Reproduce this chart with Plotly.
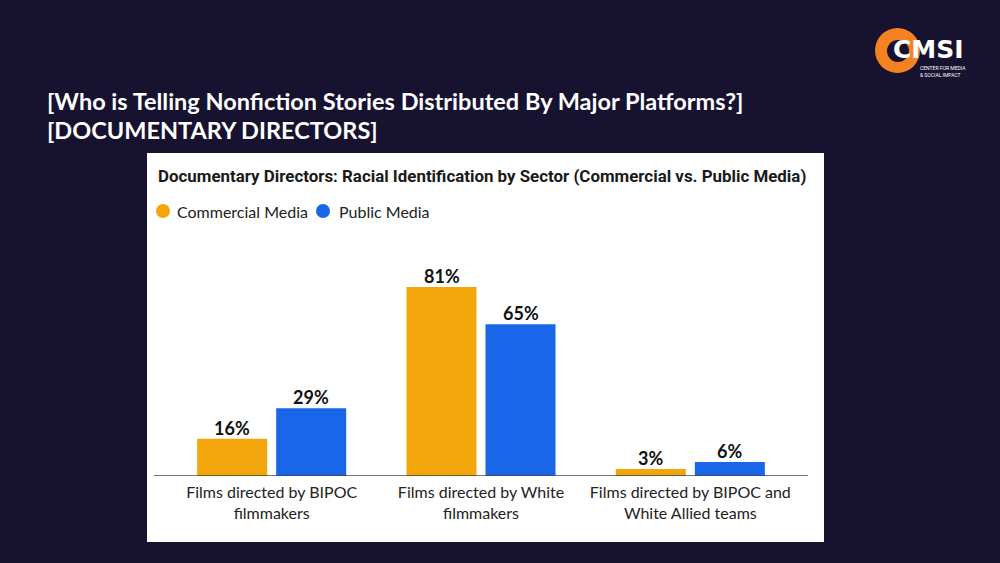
import plotly.graph_objects as go

categories = ["Films directed by BIPOC<br>filmmakers", "Films directed by White<br>filmmakers", "Films directed by BIPOC and<br>White Allied teams"]
series_names = ["Commercial Media", "Public Media"]
commercial = [16, 81, 3]
public = [29, 65, 6]
colors = ["#F2A60C", "#1966E8"]

W, H = 1000, 563
def px(x): return x / W
def py(y): return 1 - y / H

fig = go.Figure()
for name, vals, col in zip(series_names, [commercial, public], colors):
    fig.add_trace(go.Bar(
        x=categories, y=vals, name=name, marker_color=col, marker_line_width=0,
        showlegend=False, hoverinfo="skip",
    ))

shapes = [
    dict(type="rect", xref="paper", yref="paper", x0=px(147), x1=px(824), y0=py(542), y1=py(153),
         fillcolor="white", line_width=0, layer="below"),
    dict(type="line", xref="paper", yref="y", x0=px(154), x1=px(808), y0=0, y1=0,
         line=dict(color="#444444", width=1.5)),
    # logo ring
    dict(type="circle", xref="paper", yref="paper", x0=px(875), x1=px(920), y0=py(73), y1=py(28),
         fillcolor="#F58220", line_width=0),
    dict(type="circle", xref="paper", yref="paper", x0=px(887), x1=px(909), y0=py(62), y1=py(40),
         fillcolor="#16122F", line_width=0),
]
# legend markers
for cx, col in zip([163, 323], colors):
    shapes.append(dict(type="circle", xref="paper", yref="paper", x0=px(cx - 7), x1=px(cx + 7),
                       y0=py(218), y1=py(204), fillcolor=col, line_width=0))

annotations = [
    dict(text="<b>[Who is Telling Nonfiction Stories Distributed By Major Platforms?]</b>", x=px(45), y=py(101),
         xref="paper", yref="paper", xanchor="left", yanchor="middle", showarrow=False,
         font=dict(family="Lato", size=23.5, color="white")),
    dict(text="<b>[DOCUMENTARY DIRECTORS]</b>", x=px(45), y=py(130),
         xref="paper", yref="paper", xanchor="left", yanchor="middle", showarrow=False,
         font=dict(family="Lato", size=23.5, color="white")),
    dict(text="<b>Documentary Directors: Racial Identification by Sector (Commercial vs. Public Media)</b>",
         x=px(156), y=py(176), xref="paper", yref="paper", xanchor="left", yanchor="middle", showarrow=False,
         font=dict(family="Roboto", size=16.9, color="#1a1a1a")),
    dict(text="<b>CMSI</b>", x=px(891), y=py(49), xref="paper", yref="paper", xanchor="left", yanchor="middle",
         showarrow=False, font=dict(family="DejaVu Sans", size=25, color="white")),
    dict(text="CENTER FOR MEDIA<br>& SOCIAL IMPACT", x=px(918), y=py(71), xref="paper", yref="paper",
         xanchor="left", yanchor="middle", showarrow=False, align="left",
         font=dict(family="Roboto", size=5, color="white")),
]
for tx, name in zip([175, 337], series_names):
    annotations.append(dict(text=name, x=px(tx), y=py(211), xref="paper", yref="paper", xanchor="left",
                            yanchor="middle", showarrow=False,
                            font=dict(family="Lato", size=16, color="#222222")))
# value labels
for vals, shift in zip([commercial, public], [-39.5, 39.5]):
    for cat, v in zip(categories, vals):
        annotations.append(dict(text=f"<b>{v}%</b>", x=cat, y=v, xref="x", yref="y", xanchor="center",
                                yanchor="bottom", xshift=shift, yshift=-2, showarrow=False,
                                font=dict(family="Lato", size=18, color="#111111")))

fig.update_layout(
    width=W, height=H, margin=dict(l=0, r=0, t=0, b=0),
    paper_bgcolor="#16122F", plot_bgcolor="rgba(0,0,0,0)",
    barmode="group", bargap=0.245, bargroupgap=0.114,
    xaxis=dict(domain=[px(167), px(795)], showline=False, showgrid=False, ticks="",
               ticklabelstandoff=5,
               tickfont=dict(family="Lato", size=16, color="#222222")),
    yaxis=dict(domain=[py(476), py(230)], range=[0, 105.4], visible=False),
    shapes=shapes, annotations=annotations,
)
fig.write_html("out.html", config={"displayModeBar": False},
               post_script="document.body.style.margin='0';document.body.style.background='#16122F';")
